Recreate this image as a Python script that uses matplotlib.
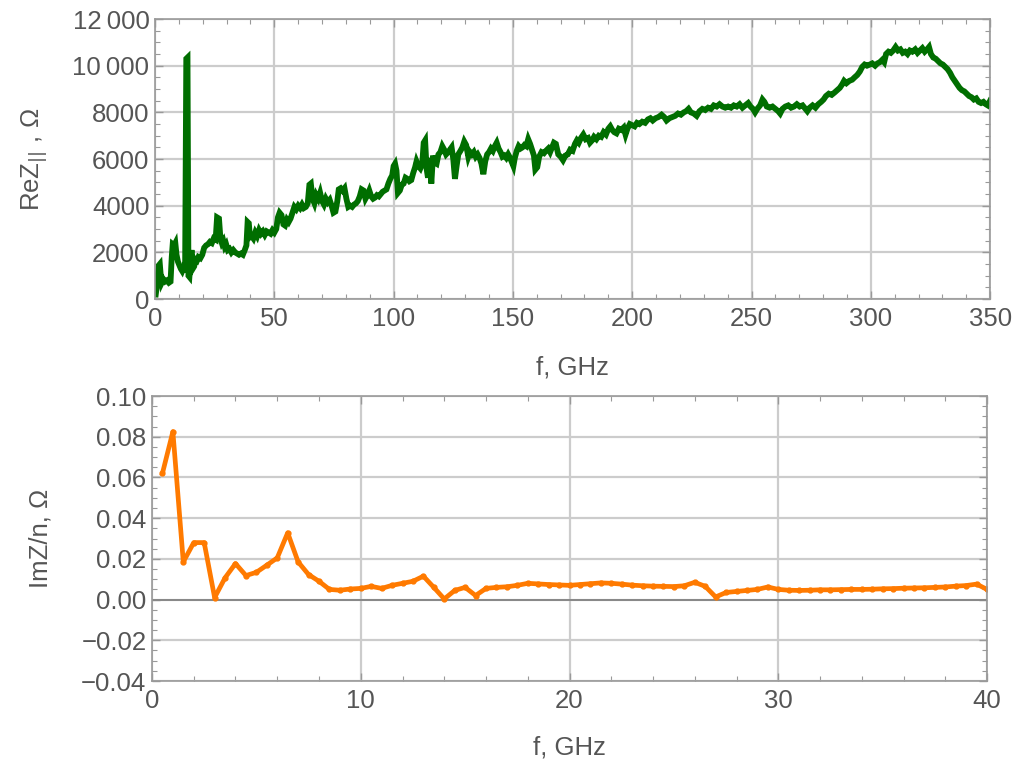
import matplotlib.pyplot as plt
from matplotlib.ticker import MultipleLocator, FuncFormatter

plt.rcParams['font.family'] = ['Liberation Sans', 'DejaVu Sans']

# top panel: Re Z_|| (Ohm) vs frequency (GHz)
f_top = [0.3, 0.8, 1.2, 1.6, 2.0, 2.4, 2.8, 3.5, 4.2, 5.0, 5.8, 6.5, 7.0, 7.4, 8.0, 8.5, 9.0, 9.6,
         10.2, 10.8, 11.4, 12.0, 12.6, 13.1, 13.6, 14.0, 14.4, 14.8, 15.3, 15.8, 16.4, 17.0, 17.6,
         18.2, 19.0, 19.8, 20.6, 21.4, 22.2, 23.0, 23.8, 24.6, 25.4, 26.0, 26.8, 27.4, 28.0, 28.6,
         29.2, 29.8, 30.5, 31.2, 32.0, 32.8, 33.6, 34.4, 35.2, 36.0, 36.8, 37.6, 38.3, 38.8, 39.3,
         39.8, 40.5, 41.2, 42.0, 42.8, 43.6, 44.4, 45.2, 46.0, 46.8, 47.6, 48.4, 49.2, 50.0, 50.8,
         51.5, 52.2, 53.0, 53.8, 54.5, 55.3, 56.0, 56.8, 57.6, 58.4, 59.2, 60.0, 60.8, 61.6, 62.4,
         63.2, 64.0, 64.7, 65.3, 66.0, 66.8, 67.6, 68.4, 69.2, 70.0, 70.8, 71.6, 72.4, 73.2, 74.0,
         74.8, 75.6, 76.4, 77.0, 77.8, 78.6, 79.4, 80.2, 81.0, 81.8, 82.6, 83.4, 84.2, 85.0, 85.8,
         86.6, 87.4, 88.2, 89.0, 89.8, 90.6, 91.4, 92.2, 93.0, 93.8, 94.6, 95.4, 96.2, 97.0, 97.8,
         98.6, 99.4, 100.0, 100.6, 101.2, 101.8, 102.6, 103.4, 104.2, 105.0, 105.8, 106.6, 107.4,
         108.2, 109.0, 109.6, 110.4, 111.2, 112.0, 112.6, 113.2, 113.8, 114.4, 115.2, 115.8, 116.5,
         117.2, 118.0, 118.8, 119.6, 120.4,
         121.2, 122.0, 122.9, 123.6, 124.3, 125.0, 125.7, 126.4, 127.1, 128.0, 128.8, 129.6, 130.4,
         131.3, 132.0, 132.8, 133.6, 134.4, 135.2, 136.0, 136.8, 137.6, 138.4, 139.2, 140.0, 140.8,
         141.6, 142.4, 143.2, 144.0, 144.8, 145.6, 146.4, 147.2, 148.0, 148.8, 149.6, 150.2, 150.8,
         151.6, 152.4, 153.2, 154.0, 154.8, 155.6, 156.4, 157.2, 158.0, 158.8, 159.4, 160.2, 161.0,
         162.0, 163.0, 163.8, 164.8, 165.6, 166.4, 167.2, 168.0, 169.0, 170.0, 171.0, 172.0, 173.0,
         174.0, 175.0, 176.0, 176.8, 177.6, 178.5, 179.5, 180.5, 181.5, 182.3, 183.2, 184.0, 185.0,
         186.0, 187.0, 188.0, 189.0, 190.0, 190.8, 191.6, 192.5, 193.4, 194.4, 195.4, 196.4, 197.2,
         198.0, 199.0, 200.0,
         201.0, 202.0, 203.0, 204.2, 205.4, 206.6, 207.6, 208.6, 209.8, 211.0, 212.3, 213.4, 214.4,
         215.6, 216.8, 218.0, 219.2, 220.4, 221.6, 222.6, 223.6, 224.6, 225.8, 227.0, 228.2, 229.4,
         230.6, 231.8, 233.0, 234.2, 235.4, 236.6, 237.8, 239.0, 240.2, 241.4, 242.6, 243.8, 245.0,
         246.2, 247.4, 248.6, 249.6, 250.6, 251.5, 252.4, 253.6, 254.6, 255.4, 256.4, 257.6, 258.8,
         260.0, 261.2, 262.0, 263.0, 264.2, 265.4, 266.6, 267.8, 269.0, 270.2, 271.4, 272.6, 273.4,
         274.4, 275.6, 276.8, 278.0, 279.2, 280.2, 281.2, 282.4, 283.6, 284.8, 285.9, 287.0, 288.0,
         288.8, 289.8, 291.0, 292.2, 293.2, 294.3, 295.4, 296.4, 297.4, 298.4, 299.6, 300.6, 301.8,
         302.8, 303.8, 304.8, 305.6, 306.4, 307.4, 308.4, 309.4, 310.4, 311.4, 312.4, 313.4, 314.4,
         315.4, 316.4, 317.4, 318.6, 319.6, 320.6, 321.6, 322.6, 323.6, 324.4, 325.2, 326.2, 327.2,
         328.2, 329.2, 330.2, 331.2, 332.2, 333.2, 334.2, 335.2, 336.2, 337.2, 338.2, 339.2, 340.2,
         341.2, 342.2, 343.2, 344.2, 345.2, 346.2, 347.2, 348.2, 349.0, 350.0]
re_z = [200, 600, 1100, 1450, 1500, 1000, 700, 850, 750, 800, 700, 750, 1800, 2350, 2300, 2400, 1900, 1600,
        1450, 1300, 1200, 1350, 1150, 10300, 10350, 1000, 950, 1500, 2100, 1300, 1400, 1700, 1650,
        1800, 1750, 1900, 2200, 2300, 2350, 2450, 2400, 2600, 2550, 3500, 3450, 2600, 2400, 2500,
        2250, 2350, 2100, 2150, 2000, 2100, 2000, 1950, 1900, 1950, 1900, 2100, 2300, 3300, 3250,
        2650, 2700, 2600, 2850, 2700, 2950, 2800, 2900, 2750, 2900, 2850, 2800, 2950, 2850, 3000,
        3500, 3700, 3600, 3200, 3150, 3400, 3300, 3450, 3700, 3950, 3850, 4000, 3900, 4050, 3900,
        3950, 4100, 4900, 4950, 4300, 4100, 4450, 4300, 4550, 4200, 4050, 4300, 4150, 4250, 4000,
        3700, 3750, 4200, 4700, 4750, 4650, 4750, 4300, 3950, 4000, 3950, 4050, 4100, 4200, 4400,
        4700, 4650, 4300, 4450, 4650, 4400, 4300, 4350, 4450, 4400, 4500, 4600, 4650, 4700, 4950,
        5150, 5300, 5700, 5800, 5500, 4550, 4650, 4900, 4950, 5200, 5150, 5050, 5100,
        5400, 5650, 5900, 5700, 5600, 5800, 6700, 6800, 5600, 5200, 6050, 4950, 6150,
        5850, 5800, 6200, 6300, 6550,
        6400, 6200, 6300, 6400, 6500, 6000, 5150, 5700, 6200, 6350, 6500, 6750, 6600,
        6100, 6300, 6200, 6300, 6100, 6200, 6050, 5800, 5350, 5900, 6200, 6300, 6450,
        6350, 6550, 6700, 6450, 6300, 6100, 6150, 6050, 6200, 6050, 5850, 5700, 6050,
        6350, 6550, 6450, 6500, 6600, 6550, 6850, 6650, 6400, 6150, 5550, 5650, 6100,
        6300, 6250, 6350, 6450, 6300, 6500, 6700, 6650, 6200, 6100, 5950, 6150, 6200,
        6400, 6350, 6650, 6800, 6700, 6900, 7050, 6850, 6900, 6700, 6800, 6950, 6850,
        7000, 6950, 7150, 7050, 7300, 7400, 7250, 7150, 7100, 7300, 7250, 7350, 7050,
        7300, 7500, 7450,
        7400, 7550, 7500, 7600, 7550, 7700, 7750, 7650, 7750, 7800, 7900, 7800, 7650,
        7750, 7800, 7850, 7950, 7900, 8000, 8050, 8150, 8000, 7950, 7850, 8050, 8150,
        8100, 8200, 8150, 8300, 8250, 8350, 8250, 8200, 8250, 8200, 8300, 8250, 8350,
        8200, 8300, 8400, 8250, 8150, 8000, 8150, 8300, 8550, 8450, 8250, 8200, 8250,
        8150, 8050, 7950, 8150, 8250, 8300, 8200, 8250, 8350, 8250, 8300, 8150, 8050,
        8200, 8300, 8200, 8350, 8450, 8550, 8700, 8800, 8750, 8850, 8950, 9050, 9200,
        9350, 9250, 9350, 9400, 9500, 9600, 9750, 9950, 10050, 10000, 10050, 10100, 10000,
        10100, 10150, 10250, 10150, 10500, 10600, 10550, 10650, 10800, 10650, 10700, 10550, 10600,
        10500, 10650, 10600, 10700, 10550, 10650, 10750, 10600, 10700, 10800, 10500, 10350, 10300,
        10200, 10100, 10050, 9950, 9850, 9700, 9500, 9350, 9200, 9050, 8950, 8900, 8800,
        8700, 8650, 8550, 8600, 8450, 8400, 8450, 8350, 8300, 8500]

# bottom panel: Im Z / n (Ohm) vs frequency (GHz)
f_bot = [0.5, 1.0, 1.5, 2.0, 2.5, 3.0, 3.5, 4.0, 4.5, 5.0, 5.5, 6.0, 6.5, 7.0, 7.5, 8.0, 8.5, 9.0, 9.5,
         10.0, 10.5, 11.0, 11.5, 12.0, 12.5, 13.0, 13.5, 14.0, 14.5, 15.0, 15.5, 16.0, 16.5, 17.0,
         17.5, 18.0, 18.5, 19.0, 19.5, 20.0, 20.5, 21.0, 21.5, 22.0, 22.5, 23.0, 23.5, 24.0, 24.5,
         25.0, 25.5, 26.0, 26.5, 27.0, 27.5, 28.0, 28.5, 29.0, 29.5, 30.0, 30.5, 31.0, 31.5, 32.0,
         32.5, 33.0, 33.5, 34.0, 34.5, 35.0, 35.5, 36.0, 36.5, 37.0, 37.5, 38.0, 38.5, 39.0, 39.5, 40.0]
im_z = [0.062, 0.0825, 0.0185, 0.028, 0.028, 0.001, 0.0107, 0.0177, 0.0118, 0.0134, 0.0169, 0.0205,
        0.0328, 0.0185, 0.0123, 0.009, 0.005, 0.0046, 0.0052, 0.0055, 0.0065, 0.0055, 0.007, 0.008,
        0.009, 0.0115, 0.006, 0.0003, 0.0045, 0.006, 0.002, 0.0055, 0.006, 0.0063, 0.007, 0.008,
        0.0077, 0.0074, 0.0072, 0.007, 0.0074, 0.0078, 0.0082, 0.008, 0.0076, 0.0071, 0.0068,
        0.0066, 0.0065, 0.0064, 0.0068, 0.0085, 0.0065, 0.0013, 0.0035, 0.004, 0.0045, 0.005,
        0.0062, 0.005, 0.0046, 0.0045, 0.0046, 0.0048, 0.0048, 0.0049, 0.005, 0.005, 0.0051,
        0.0053, 0.0054, 0.0056, 0.0057, 0.0058, 0.006, 0.0062, 0.0066, 0.0069, 0.0076, 0.005]

GRID = '#cccccc'
FRAME = '#999999'
TXT = '#555555'
FS = 18.5


def style(ax):
    for s in ax.spines.values():
        s.set_color(FRAME)
        s.set_linewidth(1.2)
    ax.tick_params(which='both', direction='in', top=True, right=True, colors=FRAME,
                   labelcolor=TXT, labelsize=FS)
    ax.tick_params(which='major', length=6, width=1)
    ax.tick_params(which='minor', length=3.5, width=0.8)
    ax.tick_params(axis='x', pad=6)
    ax.tick_params(axis='y', pad=4)
    ax.grid(True, which='major', color=GRID, linewidth=1.6)
    ax.set_axisbelow(True)


fig = plt.figure(figsize=(10.16, 7.61), dpi=100)

ax1 = fig.add_axes([0.1526, 0.607, 0.8219, 0.368])
ax1.plot(f_top, re_z, color='#006e00', linewidth=4.2, solid_joinstyle='miter')
ax1.set_xlim(0, 350)
ax1.set_ylim(0, 12000)
ax1.xaxis.set_major_locator(MultipleLocator(50))
ax1.xaxis.set_minor_locator(MultipleLocator(10))
ax1.yaxis.set_major_locator(MultipleLocator(2000))
ax1.yaxis.set_minor_locator(MultipleLocator(500))
ax1.yaxis.set_major_formatter(FuncFormatter(
    lambda v, p: f"{int(v):,}".replace(',', '\u2009') if v >= 10000 else f"{int(v)}"))
style(ax1)
ax1.set_xlabel('f, GHz', fontsize=FS, color=TXT, labelpad=17)
ax1.set_ylabel(r'ReZ$_{||}$ , Ω', fontsize=FS, color=TXT, labelpad=17)

ax2 = fig.add_axes([0.1496, 0.1051, 0.8219, 0.3745])
ax2.axhline(0, color='#888888', linewidth=1.4, zorder=1.5)
ax2.plot(f_bot, im_z, color='#ff7a00', linewidth=3.4, marker='o', markersize=3.5)
ax2.set_xlim(0, 40)
ax2.set_ylim(-0.04, 0.10)
ax2.xaxis.set_major_locator(MultipleLocator(10))
ax2.xaxis.set_minor_locator(MultipleLocator(2))
ax2.yaxis.set_major_locator(MultipleLocator(0.02))
ax2.yaxis.set_minor_locator(MultipleLocator(0.005))
ax2.yaxis.set_major_formatter(FuncFormatter(lambda v, p: f"{v:.2f}".replace('-', '\u2212')))
style(ax2)
ax2.set_xlabel('f, GHz', fontsize=FS, color=TXT, labelpad=16)
ax2.set_ylabel('ImZ/n, Ω', fontsize=FS, color=TXT, labelpad=21)

fig.savefig('out.png', dpi=100)
